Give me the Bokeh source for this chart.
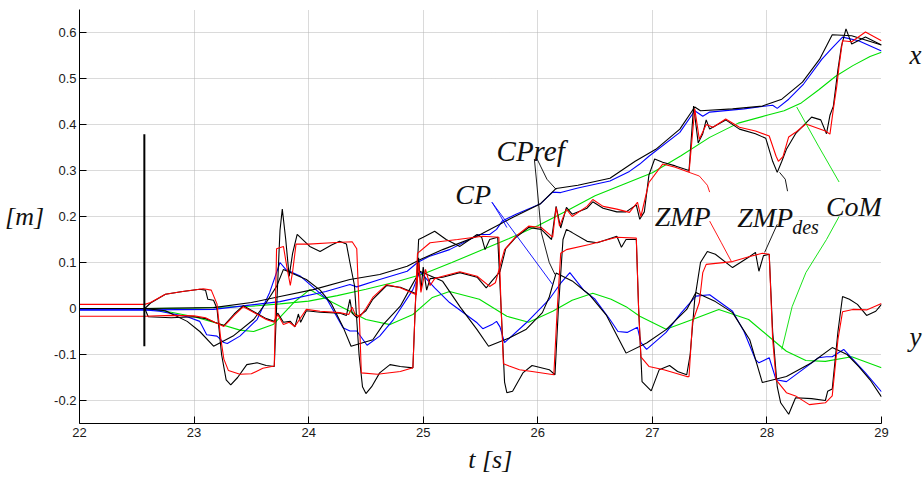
from bokeh.plotting import figure
from bokeh.models import Label, Range1d, FixedTicker, LinearAxis
from bokeh.embed import file_html
from bokeh.resources import INLINE

# ---------------- axes ----------------
x_tick_values = [22, 23, 24, 25, 26, 27, 28, 29]
x_tick_labels = ["22", "23", "24", "25", "26", "27", "28", "29"]
y_tick_values = [-0.2, -0.1, 0, 0.1, 0.2, 0.3, 0.4, 0.5, 0.6]
y_tick_labels = ["-0.2", "-0.1", "0", "0.1", "0.2", "0.3", "0.4", "0.5", "0.6"]
x_axis_title = "\u00a0\u00a0\u00a0t [s]"
y_axis_title = "[m]"
side_names = ["x", "y"]
side_values = [0.551, -0.063]

# ---------------- data: (t [s], value [m]) ----------------
com_x = [(22.0, 0.0), (22.57, 0.0), (23.0, 0.001), (23.5, 0.005), (23.75, 0.01), (24.0, 0.016),
         (24.25, 0.028), (24.5, 0.042), (24.75, 0.057), (25.0, 0.075), (25.25, 0.1), (25.5, 0.126),
         (25.75, 0.152), (26.0, 0.18), (26.25, 0.212), (26.5, 0.245), (26.75, 0.27), (27.0, 0.295),
         (27.25, 0.332), (27.5, 0.372), (27.75, 0.403), (28.0, 0.42), (28.15, 0.43), (28.3, 0.447),
         (28.45, 0.475), (28.6, 0.505), (28.75, 0.528), (28.9, 0.548), (29.0, 0.557)]

com_y = [(22.0, 0.0), (22.57, 0.0), (22.8, -0.008), (23.0, -0.018), (23.2, -0.032), (23.4, -0.047),
         (23.52, -0.05), (23.69, -0.035), (23.87, 0.013), (24.01, 0.041), (24.21, 0.013), (24.5, -0.024),
         (24.71, -0.035), (24.91, -0.013), (25.08, 0.024), (25.23, 0.037), (25.49, 0.02), (25.73, -0.017),
         (25.92, -0.03), (26.13, -0.006), (26.3, 0.018), (26.48, 0.033), (26.64, 0.02), (26.77, 0.004),
         (26.89, -0.017), (27.12, -0.045), (27.35, -0.024), (27.58, -0.002), (27.84, -0.024),
         (28.05, -0.068), (28.17, -0.093), (28.34, -0.113), (28.51, -0.115), (28.74, -0.105), (29.0, -0.129)]

cpref_x = [(22.0, 0.0), (22.57, 0.0), (23.17, 0.002), (23.5, 0.013), (23.75, 0.026), (24.04, 0.041),
           (24.36, 0.063), (24.62, 0.074), (24.86, 0.092), (24.97, 0.106), (25.17, 0.128), (25.47, 0.157),
           (25.78, 0.198), (26.02, 0.227), (26.16, 0.261), (26.35, 0.268), (26.63, 0.283), (26.85, 0.32),
           (27.03, 0.346), (27.24, 0.39), (27.37, 0.438), (27.42, 0.43), (27.7, 0.434), (27.96, 0.44),
           (28.13, 0.455), (28.31, 0.492), (28.46, 0.542), (28.57, 0.595), (28.74, 0.593), (29.0, 0.573)]

cp_x = [(22.0, -0.003), (22.57, -0.003), (23.17, -0.002), (23.75, 0.015), (24.15, 0.037), (24.36, 0.052),
        (24.42, 0.047), (24.62, 0.063), (24.86, 0.081), (24.95, 0.1), (25.05, 0.113), (25.23, 0.128),
        (25.49, 0.161), (25.58, 0.161), (25.64, 0.172), (25.69, 0.19), (25.81, 0.205), (26.02, 0.227),
        (26.13, 0.253), (26.2, 0.252), (26.35, 0.262), (26.63, 0.277), (26.8, 0.298), (26.89, 0.314),
        (26.97, 0.331), (27.24, 0.383), (27.37, 0.43), (27.44, 0.418), (27.5, 0.427), (27.8, 0.434),
        (28.05, 0.442), (28.09, 0.435), (28.19, 0.455), (28.32, 0.488), (28.48, 0.542), (28.56, 0.564),
        (28.66, 0.59), (28.8, 0.582), (29.0, 0.56)]

cpref_y = [(22.0, 0.0), (22.57, 0.0), (22.75, -0.005), (22.94, -0.028), (23.05, -0.05), (23.17, -0.082),
           (23.34, -0.06), (23.52, -0.024), (23.63, 0.013), (23.72, 0.048), (23.78, 0.085), (23.98, 0.063),
           (24.1, 0.04), (24.2, 0.01), (24.3, -0.04), (24.37, -0.082), (24.56, -0.068), (24.65, -0.035),
           (24.8, 0.005), (24.88, 0.041), (24.97, 0.081), (25.17, 0.059), (25.32, 0.004), (25.47, -0.046),
           (25.57, -0.082), (25.75, -0.064), (25.9, -0.045), (26.04, -0.009), (26.1, 0.025), (26.16, 0.077),
           (26.3, 0.06), (26.45, 0.03), (26.6, -0.015), (26.77, -0.097), (26.95, -0.075), (27.12, -0.046),
           (27.3, -0.002), (27.38, 0.035), (27.55, 0.015), (27.7, -0.009), (27.85, -0.068), (27.96, -0.161),
           (28.17, -0.148), (28.39, -0.118), (28.57, -0.085), (28.7, -0.1), (28.8, -0.126), (28.9, -0.155),
           (29.0, -0.192)]

cp_y = [(22.0, -0.003), (22.57, -0.003), (22.7, -0.006), (22.94, -0.018), (23.05, -0.028), (23.11, -0.057),
        (23.2, -0.06), (23.26, -0.074), (23.29, -0.076), (23.4, -0.06), (23.55, -0.024), (23.66, 0.035),
        (23.75, 0.1), (23.8, 0.085), (23.93, 0.07), (24.16, 0.02), (24.3, -0.042), (24.36, -0.049),
        (24.42, -0.049), (24.51, -0.08), (24.62, -0.06), (24.74, -0.024), (24.91, 0.041), (24.97, 0.08),
        (25.1, 0.045), (25.23, 0.013), (25.47, -0.031), (25.52, -0.044), (25.6, -0.035), (25.64, -0.028),
        (25.67, -0.04), (25.71, -0.074), (25.9, -0.031), (26.1, 0.02), (26.2, 0.055), (26.28, 0.078),
        (26.4, 0.04), (26.5, 0.02), (26.63, -0.024), (26.7, -0.05), (26.78, -0.052), (26.87, -0.041),
        (26.9, -0.074), (26.95, -0.089), (27.12, -0.052), (27.25, -0.01), (27.38, 0.027), (27.5, 0.03),
        (27.7, -0.006), (27.8, -0.05), (27.9, -0.111), (27.93, -0.118), (28.02, -0.107), (28.08, -0.155),
        (28.17, -0.159), (28.3, -0.135), (28.45, -0.107), (28.52, -0.105), (28.57, -0.105), (28.67, -0.089),
        (28.86, -0.14), (29.0, -0.181)]

zmp_x = [(22.0, -0.017), (22.57, -0.017), (22.8, -0.015), (23.0, -0.016), (23.1, -0.02), (23.18, -0.03),
         (23.26, -0.039), (23.35, -0.015), (23.43, 0.004), (23.53, -0.01), (23.63, -0.024), (23.7, -0.03),
         (23.73, -0.013), (23.78, -0.035), (23.83, -0.03), (23.88, -0.039), (23.93, -0.02), (23.98, -0.002),
         (24.1, -0.006), (24.27, -0.009), (24.35, -0.013), (24.38, 0.003), (24.41, -0.015), (24.45, -0.017),
         (24.5, 0.0), (24.56, 0.024), (24.68, 0.052), (24.8, 0.045), (24.94, 0.03), (24.96, 0.1),
         (24.98, 0.035), (25.02, 0.085), (25.06, 0.05), (25.1, 0.065), (25.17, 0.07), (25.32, 0.08),
         (25.47, 0.07), (25.58, 0.048), (25.63, 0.056), (25.67, 0.092), (25.71, 0.128), (25.81, 0.157),
         (25.92, 0.179), (26.03, 0.176), (26.13, 0.155), (26.16, 0.22), (26.19, 0.179), (26.25, 0.216),
         (26.3, 0.2), (26.43, 0.222), (26.48, 0.237), (26.57, 0.222), (26.69, 0.216), (26.8, 0.209),
         (26.87, 0.231), (26.9, 0.2), (26.97, 0.274), (27.09, 0.314), (27.2, 0.307), (27.32, 0.296),
         (27.37, 0.434), (27.41, 0.368), (27.47, 0.4), (27.53, 0.394), (27.64, 0.412), (27.76, 0.394),
         (27.9, 0.386), (28.02, 0.375), (28.08, 0.331), (28.1, 0.32), (28.14, 0.33), (28.19, 0.373),
         (28.25, 0.383), (28.34, 0.401), (28.51, 0.386), (28.55, 0.379), (28.58, 0.434), (28.61, 0.484),
         (28.63, 0.528), (28.66, 0.582), (28.74, 0.58), (28.86, 0.601), (29.0, 0.582)]

zmpdes_x = [(22.0, 0.0), (22.57, 0.0), (22.6, -0.018), (22.8, -0.02), (23.0, -0.018), (23.1, -0.022),
            (23.18, -0.03), (23.26, -0.037), (23.35, -0.012), (23.43, 0.006), (23.53, -0.008), (23.63, -0.022),
            (23.7, -0.028), (23.73, -0.01), (23.78, -0.03), (23.84, -0.028), (23.88, -0.04), (23.91, -0.012),
            (23.93, -0.03), (23.98, -0.005), (24.1, -0.008), (24.27, -0.01), (24.33, -0.015), (24.36, 0.02),
            (24.38, -0.01), (24.42, -0.02), (24.5, -0.005), (24.56, 0.02), (24.68, 0.05), (24.8, 0.046),
            (24.94, 0.032), (24.96, 0.11), (24.98, 0.04), (25.0, 0.09), (25.03, 0.04), (25.06, 0.065),
            (25.17, 0.068), (25.32, 0.078), (25.47, 0.068), (25.55, 0.045), (25.6, 0.06), (25.67, 0.08),
            (25.72, 0.13), (25.81, 0.155), (25.92, 0.176), (26.03, 0.172), (26.12, 0.15), (26.16, 0.222),
            (26.2, 0.175), (26.25, 0.22), (26.3, 0.205), (26.43, 0.218), (26.48, 0.232), (26.57, 0.218),
            (26.69, 0.21), (26.77, 0.21), (26.86, 0.225), (26.89, 0.194), (26.93, 0.21), (26.97, 0.29),
            (27.02, 0.325), (27.09, 0.318), (27.2, 0.31), (27.32, 0.3), (27.36, 0.44), (27.4, 0.36),
            (27.44, 0.38), (27.47, 0.41), (27.5, 0.39), (27.64, 0.41), (27.76, 0.39), (27.9, 0.38),
            (27.99, 0.37), (28.05, 0.32), (28.09, 0.296), (28.13, 0.32), (28.17, 0.346), (28.25, 0.38),
            (28.39, 0.416), (28.47, 0.41), (28.52, 0.38), (28.55, 0.42), (28.58, 0.44), (28.62, 0.52),
            (28.65, 0.57), (28.69, 0.608), (28.74, 0.575), (28.86, 0.59), (29.0, 0.573)]

zmp_y = [(22.0, 0.009), (22.57, 0.009), (22.62, 0.013), (22.75, 0.031), (22.9, 0.037), (23.08, 0.043),
         (23.15, 0.04), (23.2, 0.01), (23.23, -0.06), (23.26, -0.11), (23.3, -0.135), (23.4, -0.143),
         (23.5, -0.142), (23.6, -0.13), (23.7, -0.125), (23.71, 0.0), (23.72, 0.13), (23.78, 0.135),
         (23.81, 0.09), (23.84, 0.05), (23.86, 0.08), (23.89, 0.14), (24.0, 0.14), (24.2, 0.143),
         (24.38, 0.145), (24.42, 0.13), (24.44, 0.0), (24.46, -0.14), (24.6, -0.143), (24.8, -0.137),
         (24.91, -0.129), (24.93, 0.0), (24.95, 0.12), (25.06, 0.143), (25.3, 0.15), (25.52, 0.157),
         (25.66, 0.155), (25.68, 0.0), (25.7, -0.12), (25.75, -0.125), (25.84, -0.133), (25.95, -0.137),
         (26.14, -0.144), (26.17, 0.0), (26.2, 0.12), (26.25, 0.128), (26.45, 0.139), (26.69, 0.155),
         (26.86, 0.153), (26.88, 0.0), (26.9, -0.105), (26.97, -0.126), (27.1, -0.133), (27.3, -0.148),
         (27.32, -0.148), (27.35, -0.03), (27.41, 0.013), (27.44, 0.078), (27.47, 0.096), (27.7, 0.102),
         (27.85, 0.113), (27.96, 0.12), (28.02, 0.118), (28.05, -0.067), (28.08, -0.155), (28.17, -0.183),
         (28.25, -0.19), (28.37, -0.209), (28.51, -0.205), (28.57, -0.19), (28.62, -0.067), (28.66, -0.007),
         (28.75, -0.002), (28.87, -0.003), (29.0, 0.011)]

zmpdes_y = [(22.0, 0.0), (22.57, 0.0), (22.62, 0.012), (22.75, 0.031), (22.9, 0.037), (23.05, 0.042),
            (23.1, 0.04), (23.12, 0.02), (23.17, 0.018), (23.2, 0.0), (23.24, -0.1), (23.28, -0.155),
            (23.32, -0.166), (23.38, -0.15), (23.46, -0.122), (23.55, -0.118), (23.63, -0.124), (23.7, -0.126),
            (23.72, 0.0), (23.75, 0.17), (23.77, 0.216), (23.8, 0.15), (23.83, 0.07), (23.86, 0.12),
            (23.9, 0.161), (24.01, 0.135), (24.1, 0.124), (24.2, 0.138), (24.27, 0.146), (24.33, 0.14),
            (24.36, 0.1), (24.4, 0.05), (24.44, -0.1), (24.47, -0.17), (24.5, -0.185), (24.55, -0.17),
            (24.62, -0.14), (24.71, -0.122), (24.8, -0.126), (24.91, -0.129), (24.93, 0.0), (24.96, 0.15),
            (25.0, 0.155), (25.1, 0.168), (25.2, 0.15), (25.32, 0.135), (25.47, 0.161), (25.51, 0.155),
            (25.54, 0.128), (25.58, 0.15), (25.65, 0.155), (25.68, 0.0), (25.71, -0.16), (25.73, -0.183),
            (25.78, -0.18), (25.87, -0.14), (25.95, -0.124), (26.1, -0.133), (26.15, -0.144), (26.18, 0.0),
            (26.22, 0.15), (26.25, 0.172), (26.3, 0.165), (26.43, 0.146), (26.52, 0.143), (26.69, 0.157),
            (26.73, 0.133), (26.77, 0.15), (26.86, 0.15), (26.88, 0.0), (26.91, -0.159), (26.99, -0.179),
            (27.06, -0.133), (27.15, -0.124), (27.22, -0.137), (27.3, -0.144), (27.33, -0.1), (27.37, 0.02),
            (27.42, 0.1), (27.48, 0.124), (27.55, 0.118), (27.7, 0.089), (27.85, 0.113), (27.9, 0.122),
            (27.93, 0.081), (27.97, 0.115), (28.02, 0.118), (28.05, -0.05), (28.09, -0.17), (28.12, -0.205),
            (28.19, -0.23), (28.25, -0.194), (28.39, -0.196), (28.51, -0.2), (28.53, -0.18), (28.57, -0.175),
            (28.62, -0.05), (28.66, 0.026), (28.72, 0.02), (28.79, 0.009), (28.87, -0.015), (28.95, -0.006),
            (29.0, 0.009)]

# vertical event marker
marker_t = [22.566, 22.566]
marker_v = [-0.082, 0.379]

# annotation pointer lines (t, value)
ptr_cpref_a = [(25.99, 0.327), (26.08, 0.281), (26.16, 0.259)]
ptr_cpref_b = [(25.97, 0.325), (25.99, 0.275), (26.03, 0.166), (26.1, 0.1), (26.15, 0.074)]
ptr_cp_a = [(25.6, 0.231), (25.67, 0.203), (25.73, 0.176)]
ptr_cp_b = [(25.6, 0.231), (26.13, 0.052)]
ptr_zmp_a = [(27.32, 0.296), (27.41, 0.288), (27.48, 0.268), (27.5, 0.253)]
ptr_zmp_b = [(27.5, 0.19), (27.6, 0.144), (27.69, 0.102)]
ptr_zmpdes_a = [(28.11, 0.296), (28.16, 0.281), (28.18, 0.255)]
ptr_zmpdes_b = [(28.09, 0.183), (27.98, 0.122)]
ptr_com_a = [(28.26, 0.438), (28.45, 0.353), (28.63, 0.275)]
ptr_com_b = [(28.63, 0.2), (28.52, 0.15), (28.34, 0.078), (28.22, 0.004), (28.13, -0.089)]


def cols(pairs):
    return [a for a, _ in pairs], [b for _, b in pairs]


RED = "#ff0000"
BLUE = "#0000ff"
GREEN = "#00e000"
BLACK = "#000000"
SERIF = "Liberation Serif"

p = figure(width=924, height=480, output_backend="svg", toolbar_location=None,
           x_range=Range1d(22, 29), y_range=Range1d(-0.25, 0.65),
           min_border_left=79, min_border_right=41, min_border_top=9, min_border_bottom=57)
p.outline_line_color = None
p.background_fill_color = "white"
p.border_fill_color = "white"

for ax, vals, labs in ((p.xaxis[0], x_tick_values, x_tick_labels), (p.yaxis[0], y_tick_values, y_tick_labels)):
    ax.ticker = FixedTicker(ticks=vals)
    ax.major_label_overrides = {v: l for v, l in zip(vals, labs)}
    ax.major_tick_in = 7
    ax.major_tick_out = 0
    ax.minor_tick_line_color = None
    ax.axis_line_color = BLACK
    ax.major_tick_line_color = BLACK
    ax.major_label_text_font = "Liberation Sans"
    ax.major_label_text_font_size = "13px"
    ax.major_label_text_color = "#1a1a1a"
    ax.axis_label_text_font = SERIF
    ax.axis_label_text_font_style = "italic"
    ax.axis_label_text_font_size = "26px"
    ax.axis_label_text_color = "#111111"
p.xaxis.major_label_standoff = 4
p.yaxis.major_label_standoff = 3
p.xaxis.axis_label = x_axis_title
p.xaxis.axis_label_standoff = 5
p.yaxis.axis_label = y_axis_title
p.yaxis.axis_label_orientation = "horizontal"
p.yaxis.axis_label_standoff = 7

side = LinearAxis(ticker=FixedTicker(ticks=side_values),
                  major_label_overrides={v: l for v, l in zip(side_values, side_names)})
side.axis_line_color = None
side.major_tick_line_color = None
side.minor_tick_line_color = None
side.major_tick_in = 0
side.major_tick_out = 0
side.major_label_standoff = 28
side.major_label_text_font = SERIF
side.major_label_text_font_style = "italic"
side.major_label_text_font_size = "27px"
side.major_label_text_color = "#111111"
p.add_layout(side, "right")

for g in (p.xgrid[0], p.ygrid[0]):
    g.grid_line_color = "#b4b4b4"
    g.grid_line_dash = "1 1"
    g.grid_line_width = 1

LW = 1.1
for series, color in ((com_x, GREEN), (com_y, GREEN), (cp_x, BLUE), (cp_y, BLUE),
                      (cpref_x, BLACK), (cpref_y, BLACK), (zmpdes_x, BLACK), (zmpdes_y, BLACK),
                      (zmp_x, RED), (zmp_y, RED)):
    xs, ys = cols(series)
    p.line(xs, ys, line_color=color, line_width=LW)

p.line(marker_t, marker_v, line_color=BLACK, line_width=2)

for ptr, color in ((ptr_cpref_a, BLACK), (ptr_cpref_b, BLACK), (ptr_cp_a, BLUE), (ptr_cp_b, BLUE),
                   (ptr_zmp_a, RED), (ptr_zmp_b, RED), (ptr_zmpdes_a, BLACK), (ptr_zmpdes_b, BLACK),
                   (ptr_com_a, GREEN), (ptr_com_b, GREEN)):
    xs, ys = cols(ptr)
    p.line(xs, ys, line_color=color, line_width=0.9)


def lab(x, y, text, size="28px", style="italic"):
    p.add_layout(Label(x=x, y=y, text=text, text_font=SERIF, text_font_style=style,
                       text_font_size=size, text_baseline="alphabetic", text_align="left",
                       text_color="#111111"))


lab(25.64, 0.342, "CPref", size="29px")
lab(25.28, 0.248, "CP")
lab(27.02, 0.2, "ZMP")
lab(27.74, 0.198, "ZMP")
lab(28.22, 0.178, "des", size="20px")
lab(28.515, 0.222, "CoM")

open("out.html", "w").write(file_html(p, INLINE))
